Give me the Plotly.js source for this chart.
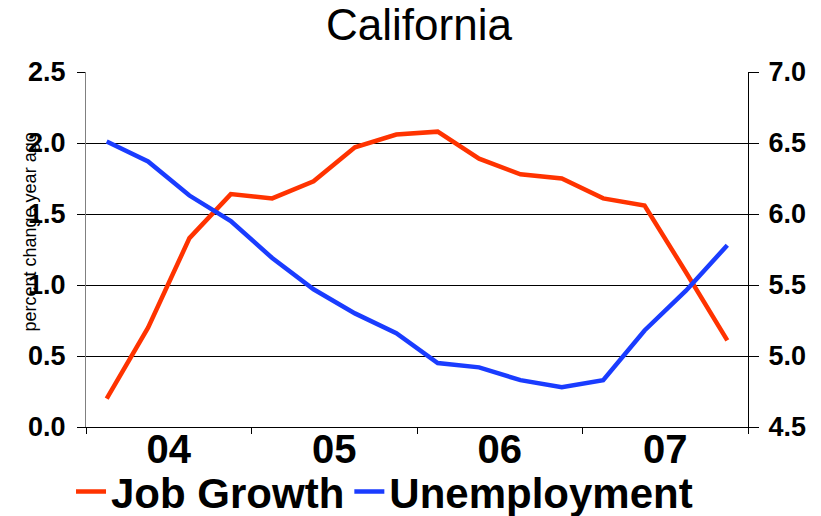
<!DOCTYPE html>
<html>
<head>
<meta charset="utf-8">
<script src="https://cdn.plot.ly/plotly-3.0.1.min.js"></script>
<style>html,body{margin:0;padding:0;background:#fff;}#chart{width:821px;height:516px;}</style>
</head>
<body>
<div id="chart"></div>
<script>
// Quarterly observations, 2004 Q1 – 2007 Q4
const quarters = ['04Q1','04Q2','04Q3','04Q4','05Q1','05Q2','05Q3','05Q4',
                  '06Q1','06Q2','06Q3','06Q4','07Q1','07Q2','07Q3','07Q4'];
// Job growth, percent change year ago (left axis)
const jobGrowth = [0.20, 0.70, 1.33, 1.64, 1.61, 1.73, 1.97, 2.06,
                   2.08, 1.89, 1.78, 1.75, 1.61, 1.56, 1.09, 0.61];
// Unemployment rate, percent (right axis)
const unemployment = [6.51, 6.37, 6.13, 5.95, 5.69, 5.47, 5.30, 5.16,
                      4.95, 4.92, 4.83, 4.78, 4.83, 5.18, 5.46, 5.78];
const yearLabels = ['04','05','06','07'];
const yearCenters = [2, 6, 10, 14];
const seriesNames = ['Job Growth', 'Unemployment'];

const xPos = quarters.map((q, i) => i + 0.5);
const FONT = 'Arial, "Liberation Sans", sans-serif';

const traces = [
  {x: xPos, y: jobGrowth, name: seriesNames[0], type: 'scatter', mode: 'lines',
   line: {color: '#FF3300', width: 4.5}, yaxis: 'y', hoverinfo: 'skip'},
  {x: xPos, y: unemployment, name: seriesNames[1], type: 'scatter', mode: 'lines',
   line: {color: '#1A3CFF', width: 4.5}, yaxis: 'y2', hoverinfo: 'skip'}
];

const layout = {
  width: 821, height: 516,
  margin: {l: 86, r: 73, t: 72, b: 89, pad: 0, autoexpand: false},
  paper_bgcolor: '#fff', plot_bgcolor: '#fff',
  font: {family: FONT, color: '#000'},
  title: {text: 'California', font: {family: FONT, size: 44, color: '#000'},
          x: 0.503, xanchor: 'center', xref: 'paper', y: 0.952, yanchor: 'middle', yref: 'container'},
  showlegend: true,
  legend: {orientation: 'h', x: 0.0865, xanchor: 'left', xref: 'container',
           y: -0.278, yanchor: 'bottom', yref: 'paper',
           font: {family: FONT, size: 42, weight: 'bold', color: '#000'},
           bgcolor: 'rgba(0,0,0,0)', borderwidth: 0, itemwidth: 30, tracegroupgap: 0},
  xaxis: {range: [0, 16], tickmode: 'array', tickvals: yearCenters, ticktext: yearLabels,
          ticks: '', showgrid: false, zeroline: false, showline: true, linecolor: '#000', linewidth: 1,
          ticklabelstandoff: -13,
          tickfont: {family: FONT, size: 40, weight: 'bold', color: '#000'},
          minor: {tickmode: 'linear', tick0: 0, dtick: 4, ticks: 'outside', ticklen: 6,
                  tickcolor: '#000', tickwidth: 1, showgrid: false},
          automargin: false, fixedrange: true},
  yaxis: {range: [0, 2.5], tickmode: 'linear', tick0: 0, dtick: 0.5, tickformat: '.1f',
          showgrid: true, gridcolor: '#000', gridwidth: 1, zeroline: false,
          showline: true, linecolor: '#808080', linewidth: 1,
          ticks: 'outside', ticklen: 8, tickcolor: '#000', ticklabelstandoff: 6,
          tickfont: {family: FONT, size: 27, weight: 'bold', color: '#000'},
          automargin: false, fixedrange: true},
  yaxis2: {range: [4.5, 7.0], tickmode: 'linear', tick0: 4.5, dtick: 0.5, tickformat: '.1f',
           overlaying: 'y', side: 'right', showgrid: false, zeroline: false,
           showline: true, linecolor: '#000', linewidth: 1,
           ticks: 'outside', ticklen: 10, tickcolor: '#000', ticklabelstandoff: 4,
           tickfont: {family: FONT, size: 27, weight: 'bold', color: '#000'},
           automargin: false, fixedrange: true},
  annotations: [{text: 'percent change year ago', xref: 'paper', yref: 'paper',
                 x: -0.085, y: 0.55, xanchor: 'center', yanchor: 'middle', textangle: -90,
                 showarrow: false, font: {family: FONT, size: 18, color: '#000'}}]
};

Plotly.newPlot('chart', traces, layout, {displayModeBar: false, staticPlot: true});
</script>
</body>
</html>
